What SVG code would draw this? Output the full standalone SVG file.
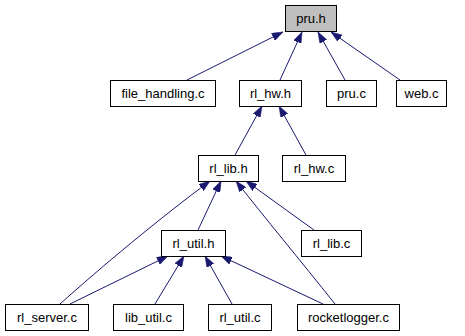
<svg xmlns="http://www.w3.org/2000/svg" width="465" height="336" viewBox="0 0 465 336">
  <style>
    .box { fill: #ffffff; stroke: #000000; stroke-width: 1; }
    .root { fill: #bfbfbf; }
    .lbl { font-family: "Liberation Sans", Arial, Helvetica, sans-serif; font-size: 13px; fill: #000000; text-anchor: middle; }
    .edge { fill: none; stroke: #191970; stroke-width: 1; marker-end: url(#arrow); }
  </style>
  <defs>
    <marker id="arrow" viewBox="0 0 11 8" refX="11" refY="4" markerWidth="11" markerHeight="8" markerUnits="userSpaceOnUse" orient="auto">
      <path d="M0,0 L11,4 L0,8 z" fill="#191970" stroke="#191970" stroke-width="0.5"/>
    </marker>
  </defs>

  <rect width="465" height="336" fill="#ffffff"/>

  <g id="edges">
    <path class="edge" d="M187,80 L283,32"/>
    <path class="edge" d="M280,80 L302,32"/>
    <path class="edge" d="M345,80 L318,32"/>
    <path class="edge" d="M400,80 L331,32"/>
    <path class="edge" d="M235,155 L262,106"/>
    <path class="edge" d="M306,155 L279,106"/>
    <path class="edge" d="M198,230 L221,181"/>
    <path class="edge" d="M60,304 C100,268 160,218 210,181"/>
    <path class="edge" d="M335,304 C300,260 265,218 236,181"/>
    <path class="edge" d="M314,230 L246,181"/>
    <path class="edge" d="M70,304 L168,256"/>
    <path class="edge" d="M155,304 L184,256"/>
    <path class="edge" d="M232,304 L205,256"/>
    <path class="edge" d="M323,304 L221,256"/>
  </g>

  <g id="pru_h">
    <rect class="box root" x="285.5" y="5.5" width="51" height="26"/>
    <text class="lbl" x="311" y="23">pru.h</text>
  </g>
  <g id="file_handling_c">
    <rect class="box" x="110.5" y="80.5" width="105" height="26"/>
    <text class="lbl" x="163" y="98">file_handling.c</text>
  </g>
  <g id="rl_hw_h">
    <rect class="box" x="239.5" y="80.5" width="62" height="26"/>
    <text class="lbl" x="270.5" y="98">rl_hw.h</text>
  </g>
  <g id="pru_c">
    <rect class="box" x="326.5" y="80.5" width="50" height="26"/>
    <text class="lbl" x="351.5" y="98">pru.c</text>
  </g>
  <g id="web_c">
    <rect class="box" x="396.5" y="80.5" width="50" height="26"/>
    <text class="lbl" x="421.5" y="98">web.c</text>
  </g>
  <g id="rl_lib_h">
    <rect class="box" x="198.5" y="155.5" width="60" height="26"/>
    <text class="lbl" x="228.5" y="173">rl_lib.h</text>
  </g>
  <g id="rl_hw_c">
    <rect class="box" x="282.5" y="155.5" width="63" height="26"/>
    <text class="lbl" x="314" y="173">rl_hw.c</text>
  </g>
  <g id="rl_util_h">
    <rect class="box" x="161.5" y="230.5" width="64" height="26"/>
    <text class="lbl" x="193.5" y="248">rl_util.h</text>
  </g>
  <g id="rl_lib_c">
    <rect class="box" x="301.5" y="230.5" width="60" height="26"/>
    <text class="lbl" x="331.5" y="248">rl_lib.c</text>
  </g>
  <g id="rl_server_c">
    <rect class="box" x="5.5" y="304.5" width="83" height="26"/>
    <text class="lbl" x="47" y="322">rl_server.c</text>
  </g>
  <g id="lib_util_c">
    <rect class="box" x="113.5" y="304.5" width="70" height="26"/>
    <text class="lbl" x="148.5" y="322">lib_util.c</text>
  </g>
  <g id="rl_util_c">
    <rect class="box" x="208.5" y="304.5" width="63" height="26"/>
    <text class="lbl" x="240" y="322">rl_util.c</text>
  </g>
  <g id="rocketlogger_c">
    <rect class="box" x="297.5" y="304.5" width="102" height="26"/>
    <text class="lbl" x="348.5" y="322">rocketlogger.c</text>
  </g>
</svg>
